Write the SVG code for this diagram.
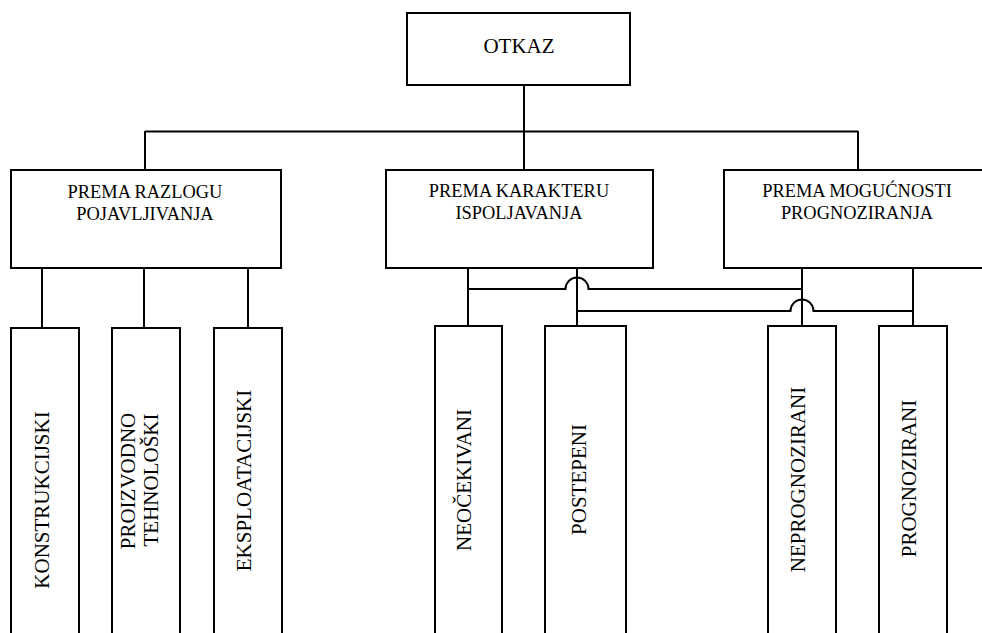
<svg xmlns="http://www.w3.org/2000/svg" width="982" height="633" viewBox="0 0 982 633">
<style>
.n{fill:#fff;stroke:#000;stroke-width:2}
.c path{fill:none;stroke:#000;stroke-width:2}
text{font-family:"Liberation Serif","Times New Roman",serif;fill:#000;text-anchor:middle}
.t{font-size:21px}
.h{font-size:18.4px}
.v{font-size:21px}
</style>
<rect width="982" height="633" fill="#fff"/>
<g class="c" id="connectors">
<path d="M524 85V170"/>
<path d="M145 131.5H858"/>
<path d="M145 131V170"/>
<path d="M858 131V170"/>
<path d="M42 268V328M144 268V328M248 268V328"/>
<path d="M468 268V326M577 268V326"/>
<path d="M802 268V326M913 268V326"/>
<path d="M468 289H565.5A11.5 11.5 0 0 1 588.5 289H802"/>
<path d="M577 311H790.5A11.5 11.5 0 0 1 813.5 311H913"/>
</g>
<g id="otkaz"><rect class="n" x="407" y="13" width="223" height="72"/><text class="t" x="519" y="53">OTKAZ</text></g>
<g id="razlog"><rect class="n" x="11" y="170" width="270" height="98"/><text class="h" x="145" y="198">PREMA RAZLOGU</text><text class="h" x="145" y="220">POJAVLJIVANJA</text></g>
<g id="karakter"><rect class="n" x="386" y="170" width="267" height="98"/><text class="h" x="519" y="197">PREMA KARAKTERU</text><text class="h" x="519" y="219">ISPOLJAVANJA</text></g>
<g id="mogucnost"><rect class="n" x="724" y="170" width="267" height="98"/><text class="h" x="857" y="197">PREMA MOGUĆNOSTI</text><text class="h" x="857" y="219">PROGNOZIRANJA</text></g>
<g id="konstrukcijski"><rect class="n" x="11" y="328" width="68" height="320"/><text class="v" transform="translate(49 500) rotate(-90)">KONSTRUKCIJSKI</text></g>
<g id="proizvodno"><rect class="n" x="112" y="328" width="68" height="320"/><text class="v" transform="translate(134.5 481) rotate(-90)">PROIZVODNO</text><text class="v" transform="translate(158 480) rotate(-90)">TEHNOLOŠKI</text></g>
<g id="eksploatacijski"><rect class="n" x="214" y="328" width="68" height="320"/><text class="v" transform="translate(250.5 480.5) rotate(-90)">EKSPLOATACIJSKI</text></g>
<g id="neocekivani"><rect class="n" x="435" y="326" width="67" height="320"/><text class="v" transform="translate(470.5 480) rotate(-90)">NEOČEKIVANI</text></g>
<g id="postepeni"><rect class="n" x="545" y="326" width="81" height="320"/><text class="v" transform="translate(585.5 479.5) rotate(-90)">POSTEPENI</text></g>
<g id="neprognozirani"><rect class="n" x="768" y="326" width="68" height="320"/><text class="v" transform="translate(805 479.5) rotate(-90)">NEPROGNOZIRANI</text></g>
<g id="prognozirani"><rect class="n" x="879" y="326" width="68" height="320"/><text class="v" transform="translate(915.5 478.5) rotate(-90)">PROGNOZIRANI</text></g>
</svg>
